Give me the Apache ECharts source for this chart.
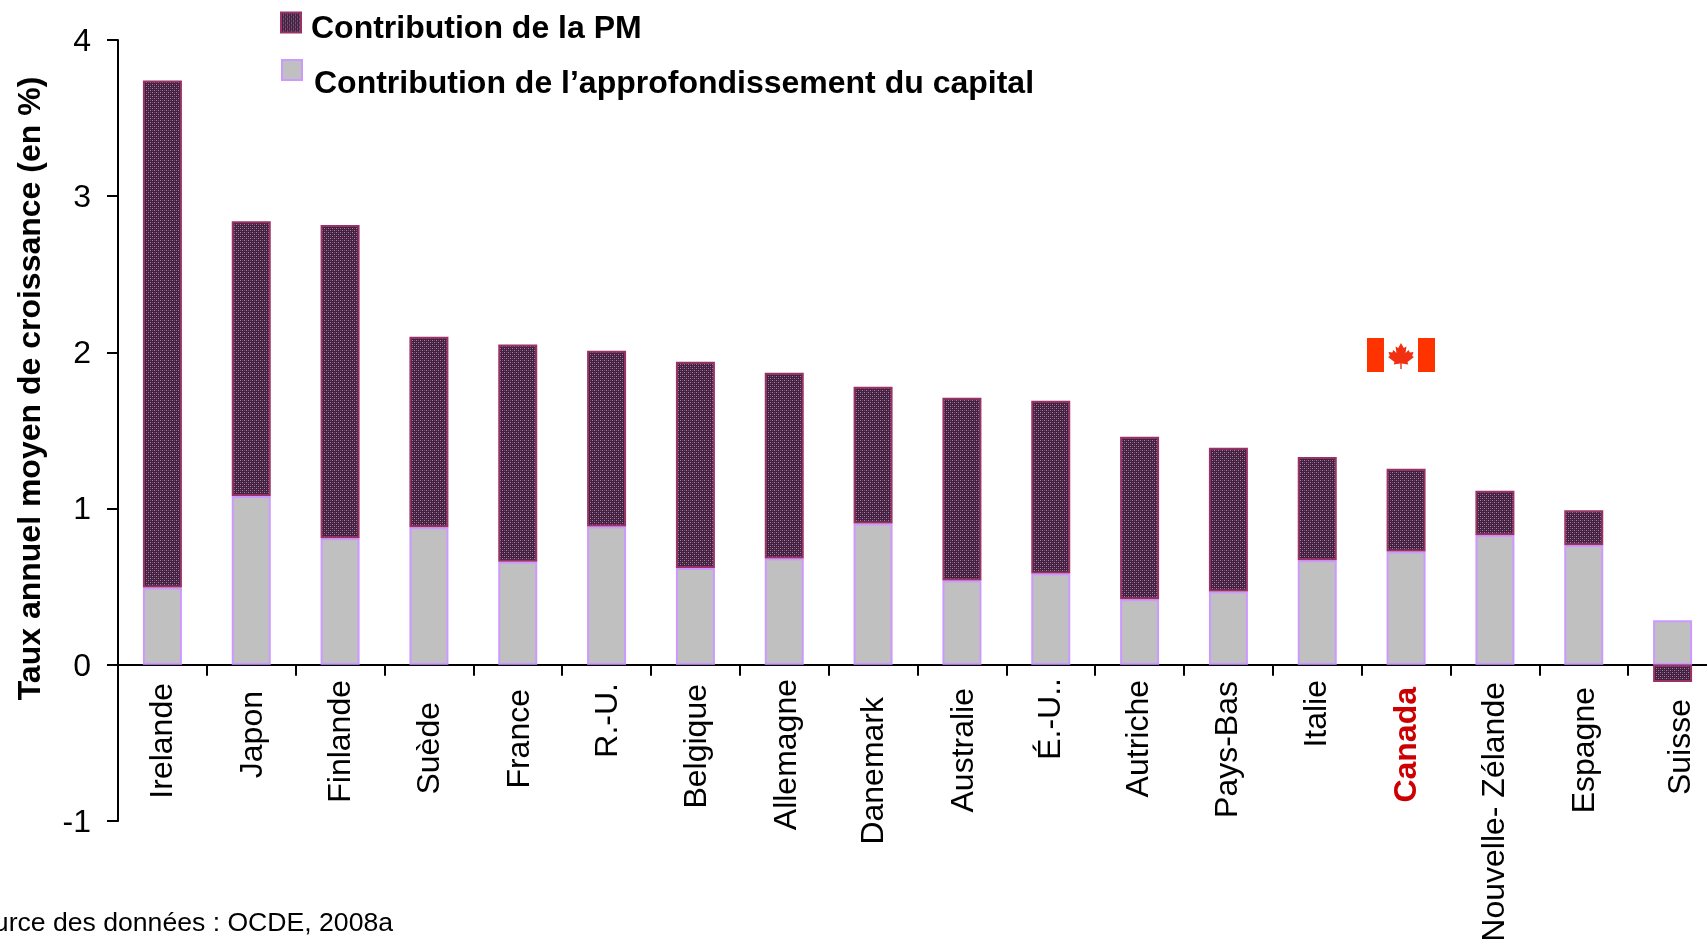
<!DOCTYPE html>
<html><head><meta charset="utf-8">
<style>html,body{margin:0;padding:0;background:#fff;overflow:hidden}#c{width:1707px;height:939px}</style>
<script src="https://cdn.jsdelivr.net/npm/echarts@6/dist/echarts.min.js"></script>
</head><body><div id="c"></div>
<script>
const categories = ['Irelande','Japon','Finlande','Suède','France','R.-U.','Belgique','Allemagne','Danemark','Australie','É.-U..','Autriche','Pays-Bas','Italie','Canada','Nouvelle- Zélande','Espagne','Suisse'];
const capitalValues = [0.495,1.08,0.81,0.88,0.66,0.885,0.62,0.68,0.905,0.54,0.585,0.42,0.47,0.67,0.725,0.83,0.765,0.285];
const pmValues = [3.245,1.76,2.005,1.22,1.39,1.125,1.32,1.19,0.875,1.17,1.105,1.04,0.92,0.66,0.53,0.285,0.225,-0.11];
const yTicks = [-1,0,1,2,3,4];
const seriesNames = ['Contribution de la PM','Contribution de l’approfondissement du capital'];
const yTitle = 'Taux annuel moyen de croissance (en %)';
const sourceNote = 'Source des données : OCDE, 2008a';
// hand-placed label offsets in the reference: along the label, and across it
const labelNudge = [6,14,3,25,12,6,7,2,20,11,1,3,4,3,10,5,10,22];
const labelShift = [1,2,1,1,2,2,2,3,1,2,0,0,0,0,1,0,1,9];

const FONT = '"Liberation Sans", Arial, sans-serif';
const pat = document.createElement('canvas'); pat.width = 4; pat.height = 4;
const g = pat.getContext('2d');
g.fillStyle = '#43203f'; g.fillRect(0,0,4,4);
g.fillStyle = '#a585a4'; g.fillRect(0,0,1,1); g.fillRect(2,2,1,1);
g.fillStyle = '#6f4a6d'; g.fillRect(2,0,1,1); g.fillRect(0,2,1,1);

const chart = echarts.init(document.getElementById('c'), null, {renderer:'canvas'});
const pmStyle = {color:{image:pat,repeat:'repeat'},borderColor:'#993366',borderWidth:2};
const capStyle = {color:'#c0c0c0',borderColor:'#cc99ff',borderWidth:2};
const leafPoints = [[34,5],[36.8,10],[39.5,8.5],[38.5,15],[41.5,12],[42.8,14.5],[46.5,14],[45.2,18],[47,19],[40.5,24],[41.3,26.5],[34.7,25.5],[34.7,31],[33.3,31],[33.3,25.5],[26.7,26.5],[27.5,24],[21,19],[22.8,18],[21.5,14],[25.2,14.5],[26.5,12],[29.5,15],[28.5,8.5],[31.2,10]];
const legendText = (top,left)=>({formatter:'{a|{name}}',textStyle:{rich:{a:{fontFamily:FONT,fontWeight:'bold',fontSize:32,color:'#000',padding:[top,0,0,left]}}}});
const labelStyle = (c,i)=>Object.assign(
  {padding:[0,labelNudge[i],0,0]},
  labelShift[i]>0?{verticalAlign:'top',lineHeight:labelShift[i]*2}:{},
  c==='Canada'?{color:'#cc0000',fontWeight:'bold'}:{});

chart.setOption({
  animation:false,
  backgroundColor:'#fff',
  grid:{left:118,top:40,width:1599,height:781,outerBoundsMode:'none'},
  legend:[
    Object.assign({data:[seriesNames[0]],left:280,top:11.5,itemWidth:20,itemHeight:20,icon:'rect',padding:0},legendText(14,5)),
    Object.assign({data:[seriesNames[1]],left:281,top:59,itemWidth:20,itemHeight:20,icon:'rect',padding:0},legendText(28,7))
  ],
  title:{text:sourceNote,right:1314,top:910,padding:0,textStyle:{fontFamily:FONT,fontWeight:'normal',fontSize:26.6,color:'#000'}},
  xAxis:{type:'category',
    data:categories.map((c,i)=>({value:c,textStyle:labelStyle(c,i)})),
    axisLine:{onZero:true,lineStyle:{color:'#000',width:2}},
    axisTick:{show:true,alignWithLabel:false,length:11,lineStyle:{color:'#000',width:2}},
    axisLabel:{interval:0,rotate:90,margin:-144,fontFamily:FONT,fontSize:32,color:'#000',hideOverlap:false},
    splitLine:{show:false}},
  yAxis:{type:'value',min:yTicks[0],max:yTicks[yTicks.length-1],interval:1,
    name:yTitle,nameLocation:'middle',nameGap:71,
    nameTextStyle:{fontFamily:FONT,fontWeight:'bold',fontSize:32,color:'#000',padding:[0,0,0,84]},
    axisLine:{show:true,onZero:false,lineStyle:{color:'#000',width:2}},
    axisTick:{show:true,length:11,lineStyle:{color:'#000',width:2}},
    axisLabel:{margin:27,fontFamily:FONT,fontSize:32,color:'#000',verticalAlign:'top',lineHeight:4},
    splitLine:{show:false}},
  series:[
    {name:seriesNames[1],type:'bar',stack:'t',barWidth:39,data:capitalValues,itemStyle:capStyle},
    {name:seriesNames[0],type:'bar',stack:'t',barWidth:39,data:pmValues,itemStyle:pmStyle}
  ],
  graphic:[{type:'group',x:1367,y:338,children:[
    {type:'rect',shape:{x:0,y:0,width:68,height:34},style:{fill:'#ff3300'}},
    {type:'rect',shape:{x:17,y:0,width:34,height:34},style:{fill:'#fff'}},
    {type:'polygon',shape:{points:leafPoints},style:{fill:'#f03010'}}
  ]}]
});
</script></body></html>
